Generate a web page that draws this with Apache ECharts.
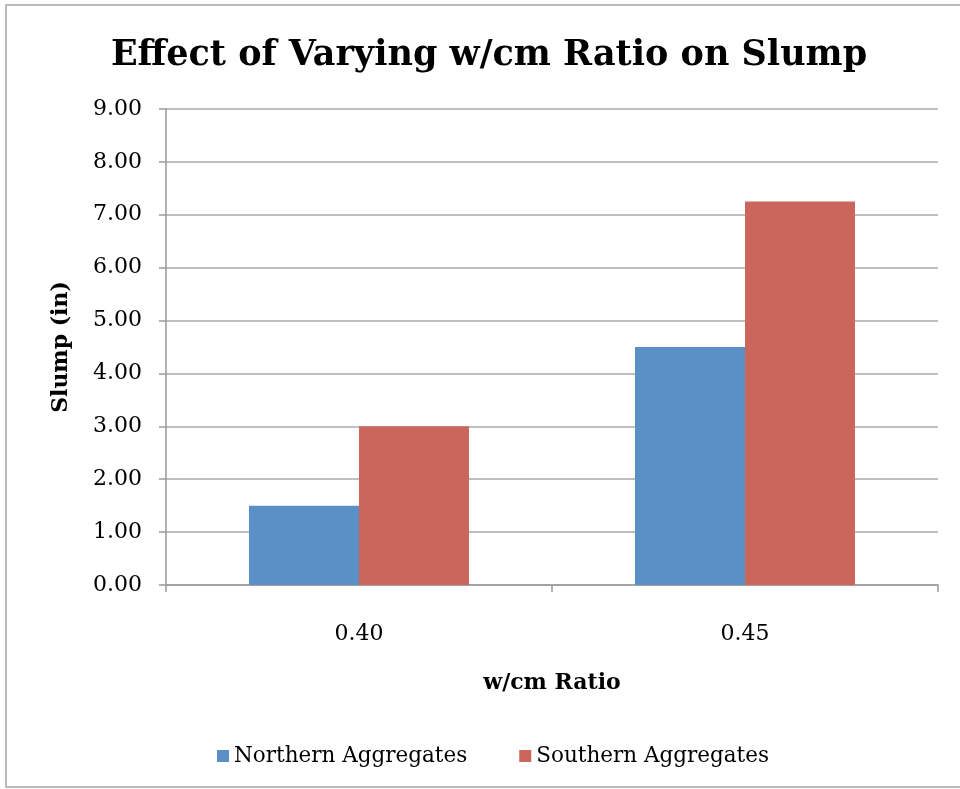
<!DOCTYPE html>
<html>
<head>
<meta charset="utf-8">
<script src="https://cdn.jsdelivr.net/npm/echarts@6/dist/echarts.min.js"></script>
<style>
    html, body { margin: 0; padding: 0; background: #fff; }
    #chart { width: 960px; height: 789px; }
</style>
</head>
<body>
<div id="chart"></div>
<script>
    // data
    var ratios = ['0.40', '0.45'];
    var northern = [1.5, 4.5];
    var southern = [3.0, 7.25];
    var seriesNames = ['Northern Aggregates', 'Southern Aggregates'];

    var serif = '"DejaVu Serif", "Liberation Serif", serif';
    var chart = echarts.init(document.getElementById('chart'));
    chart.setOption({
        animation: false,
        backgroundColor: '#fff',
        color: ['#5b90c7', '#cb665c'],
        title: {
            text: 'Effect of Varying w/cm Ratio on Slump',
            left: 484,
            textAlign: 'center',
            top: 33,
            textStyle: { fontFamily: serif, fontWeight: 'bold', fontSize: 35, color: '#000' }
        },
        graphic: [{
            type: 'rect',
            shape: { x: 6, y: 5, width: 980, height: 782 },
            style: { fill: 'none', stroke: '#bbb', lineWidth: 2 },
            silent: true
        }],
        legend: {
            data: seriesNames,
            left: 212,
            top: 740,
            icon: 'rect',
            itemWidth: 12,
            itemHeight: 12,
            itemGap: 52,
            textStyle: { fontFamily: serif, fontSize: 21.5, color: '#000' }
        },
        grid: { left: 166, right: 22, top: 109, bottom: 204, containLabel: false },
        xAxis: {
            type: 'category',
            data: ratios,
            name: 'w/cm Ratio',
            nameLocation: 'middle',
            nameGap: 87,
            nameTextStyle: { fontFamily: serif, fontWeight: 'bold', fontSize: 22, color: '#000' },
            axisLine: { lineStyle: { color: '#999', width: 1.5 } },
            axisTick: { show: true, alignWithLabel: false, length: 7, lineStyle: { color: '#999', width: 1.5 } },
            axisLabel: { margin: 38, fontFamily: serif, fontSize: 22, color: '#000' }
        },
        yAxis: {
            type: 'value',
            min: 0,
            max: 9,
            interval: 1,
            name: 'Slump (in)',
            nameLocation: 'middle',
            nameGap: 94,
            nameTextStyle: { fontFamily: serif, fontWeight: 'bold', fontSize: 22, color: '#000' },
            axisLine: { show: true, lineStyle: { color: '#999', width: 1.5 } },
            axisTick: { show: true, length: 7, lineStyle: { color: '#999', width: 1.5 } },
            axisLabel: {
                margin: 24,
                fontFamily: serif,
                fontSize: 22,
                color: '#000',
                formatter: function (v) { return v.toFixed(2); }
            },
            splitLine: { lineStyle: { color: '#aaa', width: 1.5 } }
        },
        series: [
            {
                name: seriesNames[0],
                type: 'bar',
                data: northern,
                barGap: '0%',
                barCategoryGap: '43%'
            },
            {
                name: seriesNames[1],
                type: 'bar',
                data: southern,
                barGap: '0%',
                barCategoryGap: '43%'
            }
        ]
    });
</script>
</body>
</html>
